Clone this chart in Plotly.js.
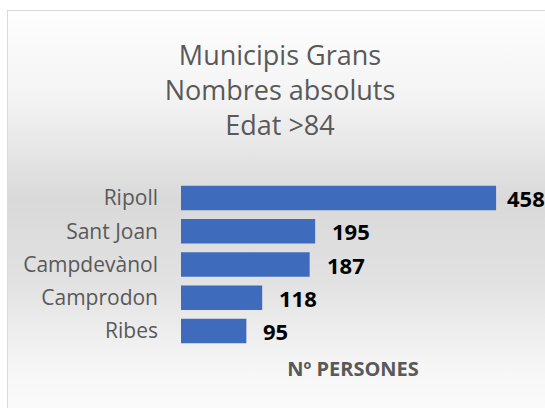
<!DOCTYPE html>
<html>
<head>
<meta charset="utf-8">
<script src="https://cdn.plot.ly/plotly-3.0.1.min.js"></script>
<style>
  html, body { margin: 0; padding: 0; background: #ffffff; }
  #wrap { position: relative; width: 545px; height: 408px; overflow: hidden; }
  #frame { position: absolute; left: 7px; top: 10px; width: 560px; height: 420px;
    border: 1px solid #d9d9d9;
    background: linear-gradient(to bottom, #fefefe 0%, #f4f4f4 20%, #d9d9d9 45%, #e2e2e2 65%, #f6f6f6 85%, #fdfdfd 100%); }
  #chart { position: absolute; left: 0; top: 0; width: 545px; height: 408px; }
</style>
</head>
<body>
<div id="wrap">
  <div id="frame"></div>
  <div id="chart"></div>
</div>
<script>
const categories = ["Ripoll", "Sant Joan", "Campdevànol", "Camprodon", "Ribes"];
const values = [458, 195, 187, 118, 95];
const titleLines = ["Municipis Grans", "Nombres absoluts", "Edat >84"];
const xTitle = "Nº PERSONES";

const W = 545, H = 408;
const margin = {l: 181, r: 20, t: 181, b: 60};
const xMax = 500;
const plotW = W - margin.l - margin.r;

const annotations = values.map((v, i) => {
  const px = margin.l + v * plotW / xMax;
  const labelW = 40;
  let shift = 15;
  if (px + shift + labelW > W) shift = W - labelW - px;
  return {
    x: v, y: categories[i], xref: 'x', yref: 'y',
    text: String(v), showarrow: false, xanchor: 'left', xshift: shift,
    font: {family: 'Open Sans', size: 22, color: '#000000', weight: 'bold'}
  };
});

const trace = {
  type: 'bar', orientation: 'h',
  x: values, y: categories,
  marker: {color: '#3f6bbd', line: {width: 0}},
  hoverinfo: 'none'
};

const layout = {
  width: W, height: H,
  margin: margin,
  paper_bgcolor: 'rgba(0,0,0,0)',
  plot_bgcolor: 'rgba(0,0,0,0)',
  showlegend: false,
  bargap: 0.27,
  title: {
    text: titleLines.join('<br>'),
    font: {family: 'Open Sans', size: 27, color: '#595959'},
    x: 280 / W, xref: 'container', xanchor: 'center',
    y: 1 - 65 / H, yref: 'container', yanchor: 'top'
  },
  xaxis: {
    range: [0, xMax], showgrid: false, zeroline: false, showline: false,
    showticklabels: false, ticks: '', fixedrange: true,
    title: {text: xTitle, standoff: 13, font: {family: 'Open Sans', size: 20, color: '#595959', weight: 'bold'}}
  },
  yaxis: {
    type: 'category', categoryorder: 'array', categoryarray: categories,
    autorange: 'reversed', showgrid: false, zeroline: false, showline: false,
    ticks: '', ticklabelstandoff: 22,
    tickfont: {family: 'Open Sans', size: 21, color: '#595959'}
  },
  annotations: annotations
};

Plotly.newPlot('chart', [trace], layout, {displayModeBar: false, staticPlot: true});
</script>
</body>
</html>
